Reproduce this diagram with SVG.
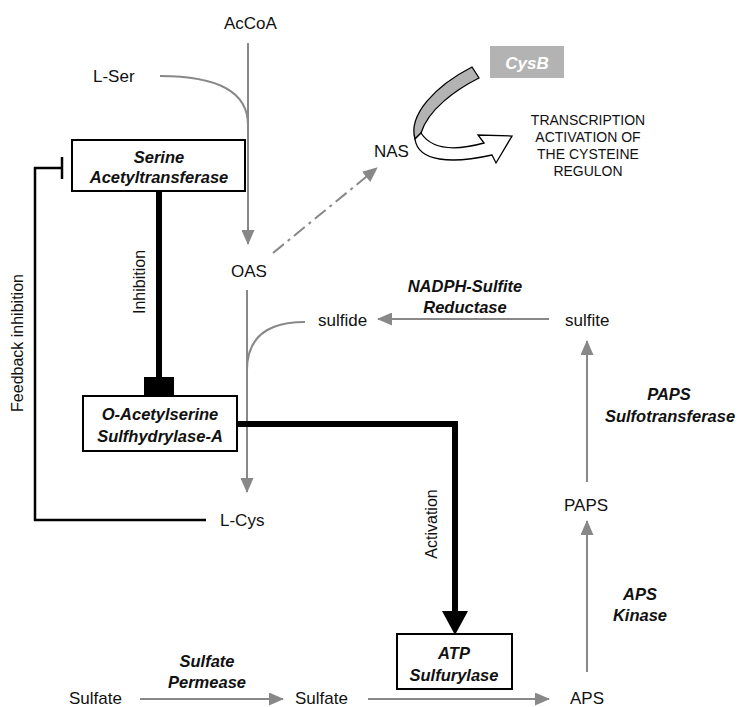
<svg xmlns="http://www.w3.org/2000/svg" width="739" height="707" viewBox="0 0 739 707">
<defs>
<marker id="ga" markerUnits="userSpaceOnUse" markerWidth="15" markerHeight="13" refX="14" refY="6.5" orient="auto" viewBox="0 0 15 13"><path d="M0,0 L15,6.5 L0,13 Z" fill="#888"/></marker>
</defs>
<style>
text{font-family:"Liberation Sans",Arial,sans-serif;fill:#111}
.t{font-size:17px}
.r{font-size:16px;text-anchor:middle}
.e{font-size:16.5px;font-weight:bold;font-style:italic;text-anchor:middle}
.c{font-size:14px;text-anchor:middle}
.g{fill:none;stroke:#888;stroke-width:2}
.b{fill:none;stroke:#000;stroke-width:6}
.box{fill:#fff;stroke:#000;stroke-width:2}
</style>
<rect width="739" height="707" fill="#fff"/>
<g id="connectors">
<line class="g" x1="248" y1="43" x2="248" y2="244" marker-end="url(#ga)"/>
<path class="g" d="M160,76 Q248,76 248,125"/>
<line class="g" x1="247" y1="290" x2="247" y2="492" marker-end="url(#ga)"/>
<path class="g" d="M305,322 Q247,322 247,370"/>
<line class="g" x1="273" y1="253" x2="377" y2="168" stroke-dasharray="14 5 3 5" marker-end="url(#ga)"/>
<line class="g" x1="549" y1="319" x2="378" y2="319" marker-end="url(#ga)"/>
<line class="g" x1="587" y1="482" x2="587" y2="341" marker-end="url(#ga)"/>
<line class="g" x1="587" y1="672" x2="587" y2="521" marker-end="url(#ga)"/>
<line class="g" x1="140" y1="699" x2="283" y2="699" marker-end="url(#ga)"/>
<line class="g" x1="368" y1="699" x2="549" y2="699" marker-end="url(#ga)"/>
<path fill="none" stroke="#000" stroke-width="2.5" d="M206,520 L35,520 L35,168 L62,168 M62,157 L62,179"/>
<line class="b" x1="159" y1="191" x2="159" y2="380"/>
<rect x="144" y="377" width="30" height="20" fill="#000"/>
<path class="b" d="M237,424 L455,424 L455,612"/>
<path d="M442,611 L468,611 L455,635 Z" fill="#000"/>
<path d="M472,67 L479,78 C455,90 428,110 421,133 L415,139 C408,115 435,86 472,67 Z" fill="#b3b3b3" stroke="#000" stroke-width="1.3"/>
<path d="M415,139 C418,162 452,164 492,155 L496,163 L512,136 L478,135 L484,143 C455,151 432,150 421,133 Z" fill="#fff" stroke="#000" stroke-width="1.3"/>
</g>
<g id="AcCoA"><text class="t" x="224" y="29">AcCoA</text></g>
<g id="LSer"><text class="t" x="93" y="82">L-Ser</text></g>
<g id="SAT"><rect class="box" x="72" y="140" width="173" height="51"/><text class="e" x="159" y="163">Serine</text><text class="e" x="159" y="183">Acetyltransferase</text></g>
<g id="OAS"><text class="t" x="231" y="277">OAS</text></g>
<g id="NAS"><text class="t" x="374" y="157">NAS</text></g>
<g id="CysB"><rect x="490" y="46" width="74" height="32" fill="#b3b3b3"/><text x="527" y="69" font-size="17" font-weight="bold" font-style="italic" text-anchor="middle" style="fill:#fff">CysB</text></g>
<g id="transcription"><text class="c" x="588" y="125">TRANSCRIPTION</text><text class="c" x="588" y="142">ACTIVATION OF</text><text class="c" x="588" y="159">THE CYSTEINE</text><text class="c" x="588" y="176">REGULON</text></g>
<g id="NADPH"><text class="e" x="465" y="292">NADPH-Sulfite</text><text class="e" x="465" y="313">Reductase</text></g>
<g id="sulfide"><text class="t" x="318" y="326">sulfide</text></g>
<g id="sulfite"><text class="t" x="565" y="326">sulfite</text></g>
<g id="PAPSST"><text class="e" x="669" y="400">PAPS</text><text class="e" x="670" y="422">Sulfotransferase</text></g>
<g id="PAPS"><text class="t" x="564" y="511">PAPS</text></g>
<g id="OASS"><rect class="box" x="83" y="396" width="154" height="55"/><text class="e" x="160" y="420">O-Acetylserine</text><text class="e" x="160" y="442">Sulfhydrylase-A</text></g>
<g id="LCys"><text class="t" x="220" y="526">L-Cys</text></g>
<g id="labels">
<text class="r" transform="translate(23,343) rotate(-90)">Feedback inhibition</text>
<text class="r" transform="translate(145,282) rotate(-90)">Inhibition</text>
<text class="r" transform="translate(437,524) rotate(-90)">Activation</text>
</g>
<g id="ATPS"><rect class="box" x="397" y="634" width="115" height="55"/><text class="e" x="454" y="659">ATP</text><text class="e" x="454" y="681">Sulfurylase</text></g>
<g id="APSK"><text class="e" x="640" y="600">APS</text><text class="e" x="640" y="621">Kinase</text></g>
<g id="Sulfate1"><text class="t" x="69" y="704">Sulfate</text></g>
<g id="SP"><text class="e" x="207" y="667">Sulfate</text><text class="e" x="207" y="688">Permease</text></g>
<g id="Sulfate2"><text class="t" x="295" y="704">Sulfate</text></g>
<g id="APS"><text class="t" x="570" y="704">APS</text></g>
</svg>
